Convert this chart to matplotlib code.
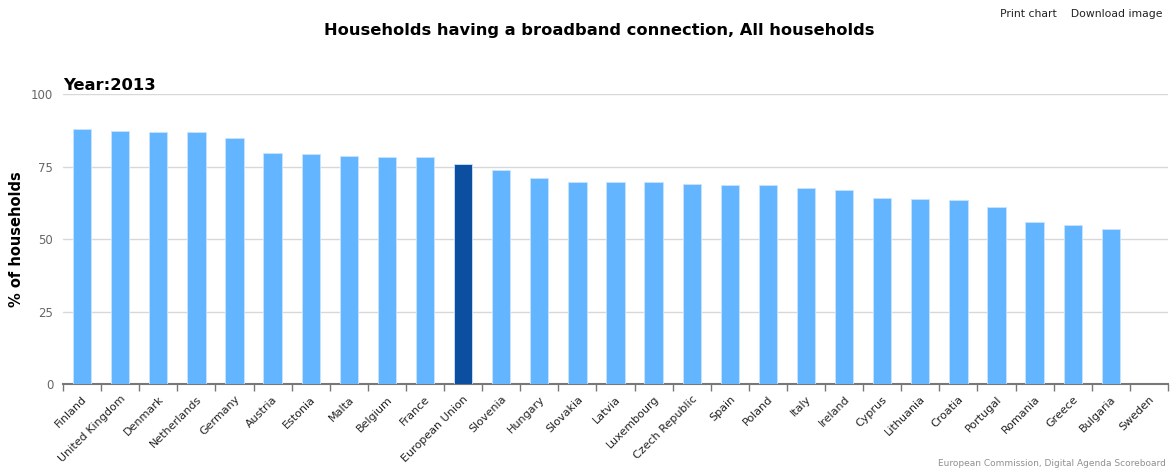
import matplotlib
matplotlib.use("Agg")
import matplotlib.pyplot as plt
import numpy as np

countries = ["Finland", "United Kingdom", "Denmark", "Netherlands", "Germany", "Austria",
             "Estonia", "Malta", "Belgium", "France", "European Union", "Slovenia", "Hungary",
             "Slovakia", "Latvia", "Luxembourg", "Czech Republic", "Spain", "Poland", "Italy",
             "Ireland", "Cyprus", "Lithuania", "Croatia", "Portugal", "Romania", "Greece",
             "Bulgaria", "Sweden"]
values = [88.1, 87.4, 87.1, 87.1, 84.8, 79.6, 79.3, 78.8, 78.5, 78.5, 75.8, 74.0, 71.0,
          69.9, 69.9, 69.9, 69.1, 68.7, 68.7, 67.6, 66.9, 64.3, 64.0, 63.7, 61.3, 56.1, 55.0,
          53.6, np.nan]
highlight = "European Union"
yticks = [0, 25, 50, 75, 100]

light = "#63b5ff"
dark = "#0c4e9f"

fig = plt.figure(figsize=(11.7, 4.73), dpi=100)
ax = fig.add_axes([63/1170, 1 - 384.3/473, (1168-63)/1170, (384.3-94.3)/473])

x = np.arange(len(countries))
colors = [dark if c == highlight else light for c in countries]
ax.bar(x, values, width=0.48, color=colors, edgecolor="#c9e4ff", linewidth=0.6, zorder=3)

ax.set_xlim(-0.5, len(countries) - 0.5)
ax.set_ylim(0, 100)
ax.set_yticks(yticks)
ax.set_yticklabels([str(t) for t in yticks], color="#666666", fontsize=8.5)
ax.tick_params(axis="y", length=0, pad=7)
ax.grid(axis="y", color="#d8d8d8", linewidth=1, zorder=0)

# category labels
ax.set_xticks(x)
ax.set_xticklabels(countries, rotation=45, ha="right", va="top", rotation_mode="anchor",
                   fontsize=8, color="#222222")
ax.tick_params(axis="x", length=0, pad=7)
# boundary ticks
ax.set_xticks(np.arange(-0.5, len(countries) + 0.5, 1), minor=True)
ax.tick_params(axis="x", which="minor", length=5, color="#777777", width=1, direction="out")

for s in ["top", "right", "left"]:
    ax.spines[s].set_visible(False)
ax.spines["bottom"].set_color("#777777")
ax.spines["bottom"].set_linewidth(1.5)

ax.set_ylabel("% of households", fontsize=10.5, fontweight="bold")
ax.yaxis.set_label_coords(-0.035, 0.5)

fig.text(0.512, 1 - 31/473, "Households having a broadband connection, All households",
         ha="center", va="center", fontsize=11.7, fontweight="bold")
fig.text(63/1170, 1 - 85/473, "Year:2013", ha="left", va="center", fontsize=11.8,
         fontweight="bold")
fig.text(1162/1170, 1 - 14/473, "Print chart    Download image", ha="right", va="center",
         fontsize=7.8, color="#222222")
fig.text(1166/1170, 1 - 463/473, "European Commission, Digital Agenda Scoreboard", ha="right",
         va="center", fontsize=6.5, color="#909090")

fig.savefig("out.png", dpi=100)
